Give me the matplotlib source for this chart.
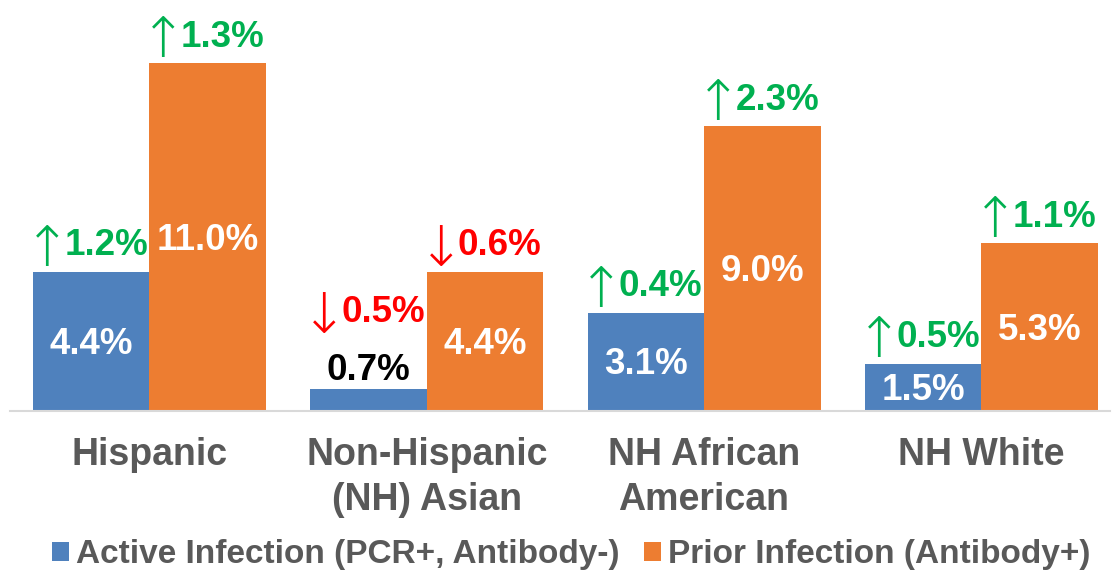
import matplotlib.pyplot as plt
import numpy as np

groups = ['Hispanic', 'Non-Hispanic\n(NH) Asian', 'NH African\nAmerican', 'NH White']
active = [4.4, 0.7, 3.1, 1.5]
prior = [11.0, 4.4, 9.0, 5.3]
active_change = [1.2, -0.5, 0.4, 0.5]
prior_change = [1.3, -0.6, 2.3, 1.1]
series_names = ['Active Infection (PCR+, Antibody-)', 'Prior Infection (Antibody+)']

blue = '#4F81BD'
orange = '#ED7D31'
green = '#00B050'
red = '#FF0000'
gray = '#595959'

plt.rcParams['font.family'] = ['Liberation Sans', 'DejaVu Sans']
plt.rcParams['font.weight'] = 'bold'

fig = plt.figure(figsize=(11.14, 5.75), dpi=100)
ax = fig.add_axes([10 / 1114, 164 / 575, 1100 / 1114, 411 / 575])

x = np.arange(len(groups))
w = 0.42
ax.bar(x - w / 2, active, w, color=blue, label=series_names[0])
ax.bar(x + w / 2, prior, w, color=orange, label=series_names[1])

ax.set_xlim(-0.503, 3.464)
ax.set_ylim(0, 13.0)

for s in ['top', 'left', 'right']:
    ax.spines[s].set_visible(False)
ax.spines['bottom'].set_color('#D9D9D9')
ax.spines['bottom'].set_linewidth(1.5)
ax.set_yticks([])
ax.set_xticks(x)
ax.set_xticklabels(groups, fontsize=27, color=gray, fontweight='bold', va='top', linespacing=1.3)
ax.tick_params(axis='x', length=0, pad=19)


def label_bars(xs, vals, changes):
    for xi, v, c in zip(xs, vals, changes):
        if v < 1.0:
            # too small to hold the label, put it above in black
            ax.annotate(f'{v:.1f}%', xy=(xi, v), xytext=(0, 18), textcoords='offset pixels',
                        ha='center', va='center', fontsize=26.5, color='black')
            lift = 76
        else:
            ax.annotate(f'{v:.1f}%', xy=(xi, v / 2), xytext=(0, -3), textcoords='offset pixels',
                        ha='center', va='center', fontsize=26.5, color='white')
            lift = 26
        col = green if c > 0 else red
        arrow = '\u2191' if c > 0 else '\u2193'
        ax.annotate(f'{abs(c):.1f}%', xy=(xi, v), xytext=(-27, lift), textcoords='offset pixels',
                    ha='left', va='center', fontsize=26.5, color=col)
        ax.annotate(arrow, xy=(xi, v), xytext=(-21, lift - 5), textcoords='offset pixels',
                    ha='right', va='center', fontsize=40, color=col,
                    family='DejaVu Sans', fontweight='light')


label_bars(x - w / 2, active, active_change)
label_bars(x + w / 2, prior, prior_change)

fig.legend(loc='center', bbox_to_anchor=(571 / 1114, 1 - 555 / 575), ncol=2, frameon=False,
           fontsize=24, labelcolor=gray, handlelength=0.51, handleheight=0.51,
           handletextpad=0.21, columnspacing=0.75, borderpad=0, borderaxespad=0)

fig.savefig('out.png', dpi=100)
